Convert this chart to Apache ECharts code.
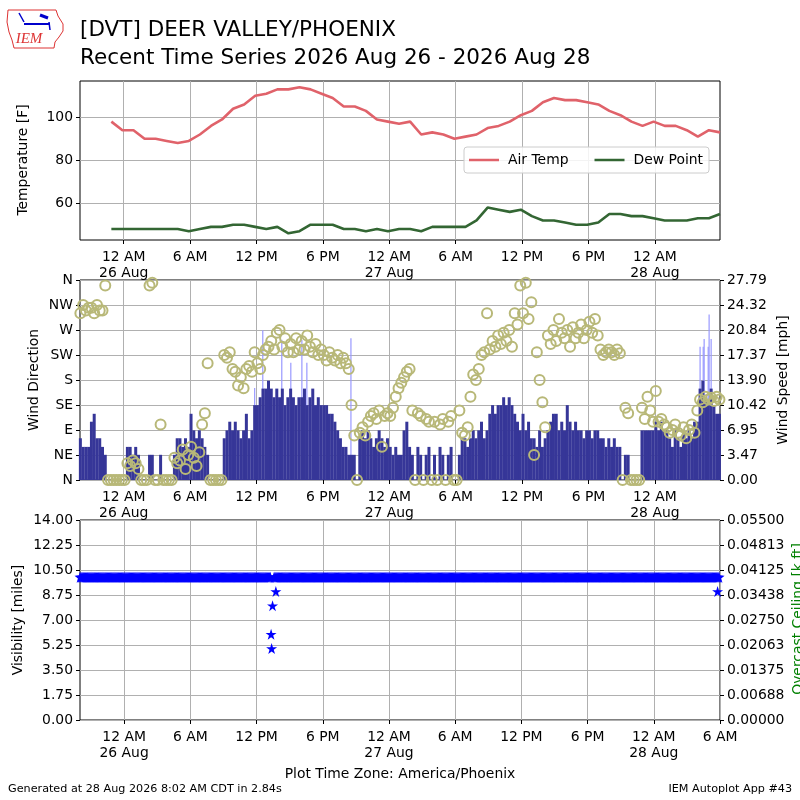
<!DOCTYPE html>
<html><head><meta charset="utf-8">
<script src="https://cdn.jsdelivr.net/npm/echarts@6/dist/echarts.min.js"></script>
<style>html,body{margin:0;padding:0;background:#fff}#c{width:800px;height:800px}</style>
</head><body><div id="c"></div>
<script>
// ---------------- DATA ----------------
// hourly observations (local time America/Phoenix), first at 2026-08-25 22:53
const tempStart = '2026-08-25 22:53';
const airTemp = [98,94,94,90,90,89,88,89,92,96,99,104,106,110,111,113,113,114,113,111,109,105,105,103,99,98,97,98,
                 92,93,92,90,91,92,95,96,98,101,103,107,109,108,108,107,106,103,101,98,96,98,96,96,94,91,94,93];
const dewPoint = [48,48,48,48,48,48,48,47,48,49,49,50,50,49,48,49,46,47,50,50,50,48,48,47,48,47,48,48,
                  47,49,49,49,49,52,58,57,56,57,54,52,52,51,50,50,51,55,55,54,54,53,52,52,52,53,53,55];

// 15-minute wind observations, first at 2026-08-25 20:05
const windStart = '2026-08-25 20:05';
const windSpeed = [
 5.8,4.6,4.6,4.6, 8.1,9.2,5.8,5.8, 4.6,3.5,0,0, 0,0,0,0,
 0,4.6,4.6,3.5, 4.6,3.5,0,0, 0,3.5,3.5,0, 0,3.5,0,0,
 0,0,3.5,5.8, 5.8,4.6,5.8,4.6, 9.2,6.9,5.8,6.9, 5.8,4.6,3.5,0,
 0,0,0,0, 5.8,6.9,8.1,6.9, 8.1,6.9,5.8,6.9, 9.2,5.8,6.9,10.4,
 10.4,11.5,12.7,12.7, 13.8,12.7,11.5,12.7, 11.5,12.7,10.4,11.5, 12.7,11.5,10.4,11.5,
 11.5,12.7,10.4,11.5, 12.7,10.4,11.5,10.4, 10.4,10.4,9.2,9.2, 8.1,6.9,5.8,4.6,
 4.6,3.5,3.5,3.5, 0,5.8,6.9,5.8, 6.9,5.8,4.6,5.8, 6.9,5.8,4.6,5.8,
 4.6,3.5,4.6,3.5, 3.5,6.9,8.1,4.6, 3.5,0,4.6,3.5, 0,3.5,4.6,0,
 3.5,0,4.6,3.5, 0,3.5,4.6,0, 0,3.5,5.8,5.8, 4.6,5.8,6.9,5.8,
 6.9,8.1,5.8,6.9, 9.2,10.4,9.2,10.4, 10.4,11.5,10.4,11.5, 10.4,9.2,8.1,6.9,
 9.2,6.9,8.1,5.8, 5.8,4.6,6.9,4.6, 5.8,6.9,8.1,9.2, 9.2,6.9,8.1,6.9,
 10.4,8.1,6.9,8.1, 6.9,6.9,5.8,6.9, 6.9,5.8,6.9,6.9, 5.8,5.8,4.6,5.8,
 4.6,5.8,4.6,4.6, 0,3.5,3.5,0, 0,0,0,6.9, 6.9,6.9,6.9,6.9,
 8.1,6.9,8.1,6.9, 6.9,5.8,4.6,6.9, 5.8,4.6,6.9,5.8, 6.9,5.8,8.1,8.1,
 12.7,13.8,11.5,10.4, 12.7,10.4,9.2,9.2
];
const windDir = [
 300,315,305,310, 310,300,315,305, 305,350,0,0, 0,0,0,0,
 0,30,25,35, 30,20,0,0, 0,350,355,0, 0,100,0,0,
 0,0,40,30, 35,55,20,45, 60,40,25,50, 100,120,210,0,
 0,0,0,0, 225,220,230,200, 195,170,185,165, 200,205,195,230,
 210,200,225,235, 240,250,235,265, 270,240,255,230, 245,230,255,235,
 250,235,260,240, 230,245,225,235, 225,215,230,220, 215,225,210,220,
 210,200,135,80, 0,85,95,80, 105,115,120,110, 125,60,115,120,
 115,130,150,165, 175,185,195,200, 125,0,120,115, 0,110,105,0,
 105,0,100,110, 0,105,115,0, 0,125,85,80, 95,150,190,180,
 200,225,230,300, 235,250,240,260, 245,265,250,270, 240,300,280,350,
 300,355,290,320, 45,230,180,140, 95,260,245,270, 250,290,265,255,
 270,240,275,255, 265,280,255,270, 285,265,290,260, 235,225,230,235,
 230,225,235,228, 0,130,120,0, 0,0,0,130, 110,150,125,105,
 160,105,110,100, 95,85,90,100, 85,80,95,75, 90,100,85,125,
 145,140,150,145, 148,142,150,145
];
const gustTimes = ['2026-08-26 11:50','2026-08-26 12:34','2026-08-26 14:17','2026-08-26 15:06','2026-08-26 16:06','2026-08-26 16:33',
                   '2026-08-26 20:32','2026-08-28 04:05','2026-08-28 04:22','2026-08-28 04:27','2026-08-28 04:49','2026-08-28 04:54','2026-08-28 05:05'];
const gustValues = [12.8,20.8,19.5,16.3,19.5,16.3,19.7,18.5,18.5,19.6,18.5,23.0,19.6];

// 5-minute visibility (miles), first at 2026-08-25 20:00, one row = 2 hours
const visStart = '2026-08-25 20:00';
const visibility = [
 10,10,10,10,10,10,10,10,10,10,10,10,10,10,10,10,10,10,10,10,10,10,10,10,
 10,10,10,10,10,10,10,10,10,10,10,10,10,10,10,10,10,10,10,10,10,10,10,10,
 10,10,10,10,10,10,10,10,10,10,10,10,10,10,10,10,10,10,10,10,10,10,10,10,
 10,10,10,10,10,10,10,10,10,10,10,10,10,10,10,10,10,10,10,10,10,10,10,10,
 10,10,10,10,10,10,10,10,10,10,10,10,10,10,10,10,10,10,10,10,10,10,10,10,
 10,10,10,10,10,10,10,10,10,10,10,10,10,10,10,10,10,10,10,10,10,10,10,10,
 10,10,10,10,10,10,10,10,10,10,10,10,10,10,10,10,10,10,10,10,10,10,10,10,
 10,10,10,10,10,10,10,10,10,10,10,10,10,10,10,10,10,10,10,10,10,10,10,10,
 10,10,10,10,10,10,10,10,10,10,10,10,10,10,10,10,null,null,null,10,10,10,10,10,
 10,10,10,10,10,10,10,10,10,10,10,10,10,10,10,10,10,10,10,10,10,10,10,10,
 10,10,10,10,10,10,10,10,10,10,10,10,10,10,10,10,10,10,10,10,10,10,10,10,
 10,10,10,10,10,10,10,10,10,10,10,10,10,10,10,10,10,10,10,10,10,10,10,10,
 10,10,10,10,10,10,10,10,10,10,10,10,10,10,10,10,10,10,10,10,10,10,10,10,
 10,10,10,10,10,10,10,10,10,10,10,10,10,10,10,10,10,10,10,10,10,10,10,10,
 10,10,10,10,10,10,10,10,10,10,10,10,10,10,10,10,10,10,10,10,10,10,10,10,
 10,10,10,10,10,10,10,10,10,10,10,10,10,10,10,10,10,10,10,10,10,10,10,10,
 10,10,10,10,10,10,10,10,10,10,10,10,10,10,10,10,10,10,10,10,10,10,10,10,
 10,10,10,10,10,10,10,10,10,10,10,10,10,10,10,10,10,10,10,10,10,10,10,10,
 10,10,10,10,10,10,10,10,10,10,10,10,10,10,10,10,10,10,10,10,10,10,10,10,
 10,10,10,10,10,10,10,10,10,10,10,10,10,10,10,10,10,10,10,10,10,10,10,10,
 10,10,10,10,10,10,10,10,10,10,10,10,10,10,10,10,10,10,10,10,10,10,10,10,
 10,10,10,10,10,10,10,10,10,10,10,10,10,10,10,10,10,10,10,10,10,10,10,10,
 10,10,10,10,10,10,10,10,10,10,10,10,10,10,10,10,10,10,10,10,10,10,10,10,
 10,10,10,10,10,10,10,10,10,10,10,10,10,10,10,10,10,10,10,10,10,10,10,10,
 10,10,10,10,10,10,10,10,10,10,10,10,10,10,10,10,10,10,10,10,10,10,10,10,
 10,10,10,10,10,10,10,10,10,10,10,10,10,10,10,10,10,10,10,10,10,10,10,10,
 10,10,10,10,10,10,10,10,10,10,10,10,10,10,10,10,10,10,10,10,10,10,10,10,
 10,10,10,10,10,10,10,10,10,10,10,10,10,10,10,10,10,10,10,10,10,10,10,10,
 10,10,10,10,10,10,10,10,10,10,10,10,10,10,10,10,10,10,10,10,10,10,10,10
];
const visDipTimes = ['2026-08-26 13:19','2026-08-26 13:22','2026-08-26 13:27','2026-08-26 13:45','2026-08-28 05:47'];
const visDipValues = [6,5,8,9,9];

// axis ticks
const xTickTimes = ['2026-08-26 00:00','2026-08-26 06:00','2026-08-26 12:00','2026-08-26 18:00','2026-08-27 00:00',
                    '2026-08-27 06:00','2026-08-27 12:00','2026-08-27 18:00','2026-08-28 00:00','2026-08-28 06:00'];
const tempTickValues = [60,80,100];
const dirTickLabels = ['N','NE','E','SE','S','SW','W','NW','N'];
const speedTickLabels = ['0.00','3.47','6.95','10.42','13.90','17.37','20.84','24.32','27.79'];
const visTickLabels = ['0.00','1.75','3.50','5.25','7.00','8.75','10.50','12.25','14.00'];
const ceilTickLabels = ['0.00000','0.00688','0.01375','0.02063','0.02750','0.03438','0.04125','0.04813','0.05500'];

// ---------------- CHART ----------------
function ts(s){const p=s.split(' ');const d=p[0].split('-').map(Number);const t=p[1].split(':').map(Number);return Date.UTC(d[0],d[1]-1,d[2],t[0],t[1]);}
const HOUR=3600000, Q=15*60000, M5=5*60000;
const FONT='"DejaVu Sans", sans-serif';
const FS=13.9;

const topMin=ts('2026-08-25 20:03'), topMax=ts('2026-08-28 05:53');
const botMin=ts('2026-08-25 20:00'), botMax=ts('2026-08-28 06:00');
const xTicks=xTickTimes.map(ts);

function fmtTime(v){const d=new Date(v);const h=d.getUTCHours();
  if(h===0) return '12 AM\n'+d.getUTCDate()+' Aug';
  if(h===12) return '12 PM';
  return (h>12?h-12:h)+(h<12?' AM':' PM');}

function xAxis(gi,mn,mx){
  const tv=xTicks.filter(t=>t>=mn&&t<=mx);
  return {type:'value',gridIndex:gi,min:mn,max:mx,
    axisLine:{show:false,onZero:false},
    axisTick:{show:true,customValues:tv,length:4,lineStyle:{color:'#000'}},
    axisLabel:{customValues:tv,formatter:fmtTime,color:'#000',fontSize:FS,fontFamily:FONT,lineHeight:16,margin:9},
    splitLine:{show:true,lineStyle:{color:'#b0b0b0',width:1}}};
}
const yBase={type:'value',axisLine:{show:false,onZero:false},
  axisTick:{show:true,length:4,lineStyle:{color:'#000'}},
  axisLabel:{color:'#000',fontSize:FS,fontFamily:FONT,margin:7},
  splitLine:{show:true,lineStyle:{color:'#b0b0b0',width:1}}};
function yAx(o){return echarts.util.merge(echarts.util.clone(yBase),o,true);}

const t0=ts(tempStart), w0=ts(windStart), v0=ts(visStart);
const STAR='path://M0,-1L0.2245,-0.309L0.951,-0.309L0.3633,0.118L0.5878,0.809L0,0.382L-0.5878,0.809L-0.3633,0.118L-0.951,-0.309L-0.2245,-0.309Z';
const chart=echarts.init(document.getElementById('c'),null,{renderer:'canvas'});
const gridBase={left:80,right:80,show:true,borderColor:'#000',borderWidth:1,backgroundColor:'transparent',outerBoundsMode:'none'};

chart.setOption({
  animation:false,
  backgroundColor:'#fff',
  title:{text:'[DVT] DEER VALLEY/PHOENIX\nRecent Time Series 2026 Aug 26 - 2026 Aug 28',left:80,top:17,padding:0,
    textStyle:{fontSize:21.5,lineHeight:27.6,fontWeight:'normal',color:'#000',fontFamily:FONT}},
  legend:{data:[{name:'Air Temp'},{name:'Dew Point'}],left:464,top:147,orient:'horizontal',icon:'rect',
    itemWidth:30,itemHeight:2.5,itemGap:26,padding:[6,6,6,5],borderColor:'#cccccc',borderWidth:1,borderRadius:3,
    backgroundColor:'rgba(255,255,255,0.85)',textStyle:{fontSize:FS,fontFamily:FONT,color:'#000',padding:[0,0,0,4]}},
  grid:[Object.assign({top:81,height:159},gridBase),Object.assign({top:280,height:200},gridBase),Object.assign({top:520,height:200},gridBase)],
  xAxis:[xAxis(0,topMin,topMax),xAxis(1,topMin,topMax),xAxis(2,botMin,botMax)],
  yAxis:[
    yAx({gridIndex:0,min:42.9,max:116.9,axisTick:{customValues:tempTickValues},axisLabel:{customValues:tempTickValues}}),
    yAx({gridIndex:1,min:0,max:360,interval:45,axisLabel:{formatter:v=>dirTickLabels[Math.round(v/45)]}}),
    yAx({gridIndex:1,position:'right',min:0,max:27.79,interval:27.79/8,splitLine:{show:false},
         axisLabel:{formatter:v=>speedTickLabels[Math.round(v/(27.79/8))]}}),
    yAx({gridIndex:2,min:0,max:14,interval:1.75,axisLabel:{formatter:v=>visTickLabels[Math.round(v/1.75)]}}),
    yAx({gridIndex:2,position:'right',min:0,max:0.055,interval:0.006875,splitLine:{show:false},
         axisLabel:{formatter:v=>ceilTickLabels[Math.round(v/0.006875)]}})
  ],
  series:[
    {name:'Air Temp',type:'line',xAxisIndex:0,yAxisIndex:0,symbol:'none',
     lineStyle:{color:'#e0626a',width:2.6},itemStyle:{color:'#e0626a'},
     data:airTemp.map((v,i)=>[t0+i*HOUR,v])},
    {name:'Dew Point',type:'line',xAxisIndex:0,yAxisIndex:0,symbol:'none',
     lineStyle:{color:'#336633',width:2.6},itemStyle:{color:'#336633'},
     data:dewPoint.map((v,i)=>[t0+i*HOUR,v])},
    {name:'Gust',type:'custom',xAxisIndex:1,yAxisIndex:2,z:1,clip:true,
     data:gustTimes.map((t,i)=>[ts(t),gustValues[i]]),
     renderItem:function(params,api){
       const p0=api.coord([api.value(0),0]);const p1=api.coord([api.value(0),api.value(1)]);
       return {type:'line',shape:{x1:p0[0],y1:p0[1],x2:p1[0],y2:p1[1]},style:{stroke:'#9999ff',lineWidth:1.2}};
     }},
    {name:'Wind Speed',type:'bar',xAxisIndex:1,yAxisIndex:2,z:2,barWidth:3,
     itemStyle:{color:'#363698'},data:windSpeed.map((v,i)=>[w0+i*Q,v])},
    {name:'Wind Direction',type:'scatter',xAxisIndex:1,yAxisIndex:1,z:3,symbol:'circle',symbolSize:10,clip:true,
     itemStyle:{color:'rgba(0,0,0,0)',borderColor:'#b8b878',borderWidth:2,opacity:1},
     data:windDir.map((v,i)=>[w0+i*Q,v])},
    {name:'Visibility',type:'scatter',xAxisIndex:2,yAxisIndex:3,symbol:STAR,clip:true,
     symbolSize:11,itemStyle:{color:'#0000ff',opacity:1},
     data:visibility.map((v,i)=>[v0+i*M5,v]).filter(d=>d[1]!==null)},
    {name:'Visibility dips',type:'scatter',xAxisIndex:2,yAxisIndex:3,symbol:STAR,clip:true,
     symbolSize:11,itemStyle:{color:'#0000ff',opacity:1},
     data:visDipTimes.map((t,i)=>[ts(t),visDipValues[i]])}
  ],
  graphic:[
    {type:'text',x:23,y:160,rotation:Math.PI/2,style:{text:'Temperature [F]',font:FS+'px '+FONT,fill:'#000',align:'center',verticalAlign:'middle'}},
    {type:'text',x:34,y:380,rotation:Math.PI/2,style:{text:'Wind Direction',font:FS+'px '+FONT,fill:'#000',align:'center',verticalAlign:'middle'}},
    {type:'text',x:783,y:380,rotation:Math.PI/2,style:{text:'Wind Speed [mph]',font:FS+'px '+FONT,fill:'#000',align:'center',verticalAlign:'middle'}},
    {type:'text',x:18,y:620,rotation:Math.PI/2,style:{text:'Visibility [miles]',font:FS+'px '+FONT,fill:'#000',align:'center',verticalAlign:'middle'}},
    {type:'text',x:798,y:619,rotation:Math.PI/2,style:{text:'Overcast Ceiling [k ft]',font:FS+'px '+FONT,fill:'#008000',align:'center',verticalAlign:'middle'}},
    {type:'text',x:400,y:774,style:{text:'Plot Time Zone: America/Phoenix',font:FS+'px '+FONT,fill:'#000',align:'center',verticalAlign:'middle'}},
    {type:'text',x:8,y:789,style:{text:'Generated at 28 Aug 2026 8:02 AM CDT in 2.84s',font:'11.2px '+FONT,fill:'#000',align:'left',verticalAlign:'middle'}},
    {type:'text',x:792,y:789,style:{text:'IEM Autoplot App #43',font:'11.2px '+FONT,fill:'#000',align:'right',verticalAlign:'middle'}},
    {type:'polygon',shape:{points:[[8,10],[56,10],[58,16],[63,24],[63,31],[59,37],[55,42],[54,48],[14,48],[12,40],[9,32],[7,22]]},
     style:{fill:'none',stroke:'#d33',lineWidth:1}},
    {type:'polyline',shape:{points:[[24,24],[50,24]]},style:{stroke:'#0000cc',lineWidth:2}},
    {type:'polyline',shape:{points:[[19,13],[24,22]]},style:{stroke:'#0000cc',lineWidth:1.5}},
    {type:'polyline',shape:{points:[[40,15],[48,18]]},style:{stroke:'#0000cc',lineWidth:3}},
    {type:'polyline',shape:{points:[[49,22],[50,30]]},style:{stroke:'#0000cc',lineWidth:1.5}},
    {type:'text',x:29,y:39,style:{text:'IEM',font:'italic 15px "Liberation Serif", serif',fill:'#d33',align:'center',verticalAlign:'middle'}}
  ]
});
</script></body></html>
